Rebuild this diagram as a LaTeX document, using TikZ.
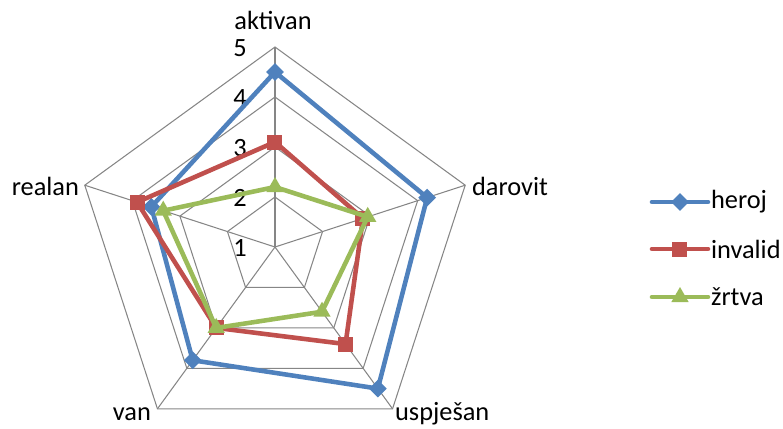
\documentclass[tikz,border=0pt]{standalone}
\usepackage{fontspec}
\setmainfont{Carlito}
\usetikzlibrary{shapes.geometric}
\definecolor{gridgray}{HTML}{868686}
\definecolor{herojblue}{HTML}{4F81BD}
\definecolor{invalidred}{HTML}{C0504D}
\definecolor{zrtvagreen}{HTML}{9BBB59}
\begin{document}
\begin{tikzpicture}[gr/.style={draw=gridgray, line width=0.6pt},
    lb/.style={font=\fontsize{15}{18}\selectfont, inner sep=1pt},
    ser/.style={line width=2.6pt, line join=round},
    hm/.style={diamond, fill=herojblue, inner sep=0pt, minimum size=0.36cm},
    im/.style={rectangle, fill=invalidred, inner sep=0pt, minimum size=0.3cm},
    zm/.style={regular polygon, regular polygon sides=3, fill=zrtvagreen, inner sep=0pt, minimum size=0.4cm}]
            \useasboundingbox (-5.5,-3.62) rectangle (10.16,4.94);

            % spider grid
            \coordinate (o) at (0,0);
            \coordinate (a1) at (90:4);
            \coordinate (a2) at (18:4);
            \coordinate (a3) at (-54:4);
            \coordinate (a4) at (-126:4);
            \coordinate (a5) at (162:4);
            \draw[gr] (90:1) -- (18:1) -- (-54:1) -- (-126:1) -- (162:1) -- cycle;
            \draw[gr] (90:2) -- (18:2) -- (-54:2) -- (-126:2) -- (162:2) -- cycle;
            \draw[gr] (90:3) -- (18:3) -- (-54:3) -- (-126:3) -- (162:3) -- cycle;
            \draw[gr] (a1) -- (a2) -- (a3) -- (a4) -- (a5) -- cycle;
            \draw[gr] (o) -- (a1);
            \draw[gr] (o) -- (a2);
            \draw[gr] (o) -- (a3);
            \draw[gr] (o) -- (a4);
            \draw[gr] (o) -- (a5);

            % axis names and ticks
            \node[lb] (ak) at (-0.04,4.54) {aktivan};
            \node[lb, anchor=west] (da) at (3.9,1.22) {darovit};
            \node[lb, anchor=west] (us) at (2.36,-3.34) {uspješan};
            \node[lb, anchor=east] (va) at (-2.44,-3.34) {van};
            \node[lb, anchor=east] (re) at (-3.88,1.22) {realan};
            \node[lb] (t1) at (-0.7,-0.02) {1};
            \node[lb] (t2) at (-0.7,0.98) {2};
            \node[lb] (t3) at (-0.7,1.98) {3};
            \node[lb] (t4) at (-0.7,2.98) {4};
            \node[lb] (t5) at (-0.7,3.98) {5};

            % heroj
            \coordinate (h1) at (90:3.5);
            \coordinate (h2) at (18:3.2);
            \coordinate (h3) at (-54:3.5);
            \coordinate (h4) at (-126:2.8);
            \coordinate (h5) at (162:2.6);
            \draw[ser, herojblue] (h1) -- (h2) -- (h3) -- (h4) -- (h5) -- cycle;
            \node[hm] (hm1) at (h1) {};
            \node[hm] (hm2) at (h2) {};
            \node[hm] (hm3) at (h3) {};
            \node[hm] (hm4) at (h4) {};
            \node[hm] (hm5) at (h5) {};

            % invalid
            \coordinate (i1) at (90:2.1);
            \coordinate (i2) at (18:1.85);
            \coordinate (i3) at (-54:2.4);
            \coordinate (i4) at (-126:2.0);
            \coordinate (i5) at (162:2.9);
            \draw[ser, invalidred] (i1) -- (i2) -- (i3) -- (i4) -- (i5) -- cycle;
            \node[im] (im1) at (i1) {};
            \node[im] (im2) at (i2) {};
            \node[im] (im3) at (i3) {};
            \node[im] (im4) at (i4) {};
            \node[im] (im5) at (i5) {};

            % zrtva
            \coordinate (z1) at (90:1.2);
            \coordinate (z2) at (18:1.95);
            \coordinate (z3) at (-54:1.6);
            \coordinate (z4) at (-126:2.0);
            \coordinate (z5) at (162:2.35);
            \draw[ser, zrtvagreen] (z1) -- (z2) -- (z3) -- (z4) -- (z5) -- cycle;
            \node[zm] (zm1) at (z1) {};
            \node[zm] (zm2) at (z2) {};
            \node[zm] (zm3) at (z3) {};
            \node[zm] (zm4) at (z4) {};
            \node[zm] (zm5) at (z5) {};

            % legend
            \coordinate (lh0) at (7.54,0.9);
            \coordinate (lh1) at (8.66,0.9);
            \coordinate (li0) at (7.54,-0.04);
            \coordinate (li1) at (8.66,-0.04);
            \coordinate (lz0) at (7.54,-1.0);
            \coordinate (lz1) at (8.66,-1.0);
            \draw[ser, herojblue, line cap=round] (lh0) -- (lh1);
            \node[hm] (lhm) at (8.1,0.9) {};
            \draw[ser, invalidred, line cap=round] (li0) -- (li1);
            \node[im] (lim) at (8.1,-0.04) {};
            \draw[ser, zrtvagreen, line cap=round] (lz0) -- (lz1);
            \node[zm] (lzm) at (8.1,-1.0) {};
            \node[lb, anchor=west] (lht) at (8.68,0.9) {heroj};
            \node[lb, anchor=west] (lit) at (8.68,-0.04) {invalid};
            \node[lb, anchor=west] (lzt) at (8.68,-1.0) {žrtva};
        \end{tikzpicture}
\end{document}
